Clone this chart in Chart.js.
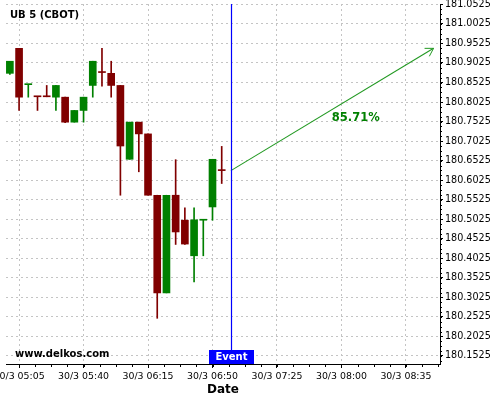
<!doctype html>
<html lang="en">
  <head>
    <meta charset="UTF-8" />
    <title>UB 5 (CBOT)</title>
    <script src="https://cdn.jsdelivr.net/npm/chart.js"></script>
    <style>
      body {
        margin: 0;
        background: #fff;
      }
      canvas {
        display: block;
      }
    </style>
  </head>
  <body>
    <canvas id="candleChart" width="500" height="400"></canvas>

    <script>
      // 5-minute candles, 30/3
      const times = ["05:00", "05:05", "05:10", "05:15", "05:20", "05:25", "05:30", "05:35",
        "05:40", "05:45", "05:50", "05:55", "06:00", "06:05", "06:10", "06:15",
        "06:20", "06:25", "06:30", "06:35", "06:40", "06:45", "06:50", "06:55"];
      const opens = [180.876, 180.940, 180.847, 180.817, 180.817, 180.815, 180.815, 180.751,
        180.781, 180.845, 180.879, 180.876, 180.845, 180.656, 180.751, 180.721,
        180.564, 180.314, 180.564, 180.500, 180.409, 180.500, 180.534, 180.628];
      const highs = [180.907, 180.940, 180.848, 180.817, 180.845, 180.845, 180.815, 180.781,
        180.815, 180.907, 180.940, 180.907, 180.845, 180.751, 180.751, 180.721,
        180.564, 180.564, 180.655, 180.532, 180.532, 180.501, 180.656, 180.689];
      const lows = [180.873, 180.781, 180.815, 180.781, 180.816, 180.781, 180.750, 180.751,
        180.751, 180.815, 180.843, 180.815, 180.564, 180.656, 180.624, 180.564,
        180.249, 180.314, 180.438, 180.438, 180.342, 180.409, 180.500, 180.594];
      const closes = [180.907, 180.815, 180.848, 180.816, 180.816, 180.845, 180.751, 180.781,
        180.815, 180.907, 180.878, 180.845, 180.690, 180.751, 180.721, 180.564,
        180.314, 180.564, 180.470, 180.439, 180.501, 180.501, 180.656, 180.627];

      const eventTime = "07:00";
      const forecastTimes = ["07:00", "08:50"];
      const forecastValues = [180.627, 180.94];
      const forecastLabel = "85.71%";

      const xTickTimes = ["05:05", "05:40", "06:15", "06:50", "07:25", "08:00", "08:35"];
      const xTickLabels = ["30/3 05:05", "30/3 05:40", "30/3 06:15", "30/3 06:50",
        "30/3 07:25", "30/3 08:00", "30/3 08:35"];
      const yTicks = [180.1525, 180.2025, 180.2525, 180.3025, 180.3525, 180.4025, 180.4525,
        180.5025, 180.5525, 180.6025, 180.6525, 180.7025, 180.7525, 180.8025,
        180.8525, 180.9025, 180.9525, 181.0025, 181.0525];

      const UP = "#008000";
      const DOWN = "#800000";
      const ARROW = "#229922";
      const FONT = "'DejaVu Sans', sans-serif";

      function toMin(t) {
        const [h, m] = t.split(":").map(Number);
        return h * 60 + m;
      }

      const candleColor = (i) => (closes[i] >= opens[i] ? UP : DOWN);

      const wickData = times.map((t, i) => ({ x: toMin(t), y: [lows[i], highs[i]] }));
      const bodyData = times.map((t, i) => ({ x: toMin(t), y: [opens[i], closes[i]] }));
      const forecastData = forecastTimes.map((t, i) => ({ x: toMin(t), y: forecastValues[i] }));

      Chart.defaults.font.family = FONT;
      Chart.defaults.font.size = 9.4;
      Chart.defaults.color = "#000";

      // event line, arrow head, labels and minor ticks
      const overlay = {
        id: "overlay",
        afterDraw(chart) {
          const { ctx, chartArea: a, scales } = chart;
          const x = scales.x, y = scales.y;
          ctx.save();
          ctx.setLineDash([]);
          ctx.lineWidth = 1;

          // minor ticks
          ctx.strokeStyle = "#000";
          ctx.beginPath();
          const xStep = 35 / 4;
          for (let v = toMin(xTickTimes[0]) - 4 * xStep; v <= x.max; v += xStep) {
            if (v < x.min) continue;
            const px = Math.round(x.getPixelForValue(v)) + 0.5;
            ctx.moveTo(px, a.bottom);
            ctx.lineTo(px, a.bottom + 3);
          }
          for (let v = yTicks[0] - 0.0125; v <= y.max; v += 0.0125) {
            if (v < y.min) continue;
            const py = Math.round(y.getPixelForValue(v)) + 0.5;
            ctx.moveTo(a.right, py);
            ctx.lineTo(a.right + 2, py);
          }
          ctx.stroke();

          // event line
          const ex = Math.round(x.getPixelForValue(toMin(eventTime))) + 0.5;
          ctx.strokeStyle = "#0000ff";
          ctx.lineWidth = 1.2;
          ctx.beginPath();
          ctx.moveTo(ex, a.top);
          ctx.lineTo(ex, a.bottom);
          ctx.stroke();
          ctx.fillStyle = "#0000ff";
          ctx.fillRect(ex - 22.5, a.bottom - 14, 45, 14);
          ctx.fillStyle = "#fff";
          ctx.font = "bold 10px " + FONT;
          ctx.textAlign = "center";
          ctx.textBaseline = "middle";
          ctx.fillText("Event", ex, a.bottom - 6.5);

          // arrow head
          const pts = chart.getDatasetMeta(2).data;
          const p0 = pts[0], p1 = pts[1];
          const ang = Math.atan2(p1.y - p0.y, p1.x - p0.x);
          ctx.strokeStyle = ARROW;
          ctx.lineWidth = 1;
          ctx.beginPath();
          for (const s of [-1, 1]) {
            const b = ang + Math.PI + s * (31 * Math.PI / 180);
            ctx.moveTo(p1.x, p1.y);
            ctx.lineTo(p1.x + 9 * Math.cos(b), p1.y + 9 * Math.sin(b));
          }
          ctx.stroke();

          ctx.fillStyle = "#008000";
          ctx.font = "bold 11.5px " + FONT;
          ctx.textAlign = "center";
          ctx.textBaseline = "alphabetic";
          ctx.fillText(forecastLabel, (p0.x + p1.x) / 2 + 23.5, (p0.y + p1.y) / 2 + 12);

          // title and watermark
          ctx.fillStyle = "#000";
          ctx.font = "bold 10px " + FONT;
          ctx.textAlign = "left";
          ctx.textBaseline = "middle";
          ctx.fillText("UB 5 (CBOT)", 10, 15.5);
          ctx.fillText("www.delkos.com", 15, 354);
          ctx.restore();
        },
      };

      new Chart(document.getElementById("candleChart"), {
        type: "bar",
        data: {
          datasets: [
            {
              label: "wick",
              data: wickData,
              backgroundColor: (c) => candleColor(c.dataIndex),
              barThickness: 1,
              grouped: false,
            },
            {
              label: "body",
              data: bodyData,
              backgroundColor: (c) => candleColor(c.dataIndex),
              barThickness: 7,
              minBarLength: 1,
              grouped: false,
            },
            {
              type: "line",
              label: "forecast",
              data: forecastData,
              borderColor: ARROW,
              borderWidth: 1.1,
              pointRadius: 0,
              fill: false,
            },
          ],
        },
        options: {
          responsive: false,
          animation: false,
          layout: { padding: { top: 4, left: 6, right: 0, bottom: 0 } },
          plugins: {
            legend: { display: false },
            tooltip: { enabled: false },
          },
          scales: {
            x: {
              type: "linear",
              offset: false,
              min: 297.9,
              max: 533.5,
              afterBuildTicks: (s) => {
                s.ticks = xTickTimes.map((t) => ({ value: toMin(t) }));
              },
              afterFit: (s) => {
                s.height = 36;
                s.paddingLeft = 0;
                s.paddingRight = 0;
              },
              ticks: {
                autoSkip: false,
                maxRotation: 0,
                padding: 3,
                callback: (v, i) => xTickLabels[i],
              },
              grid: {
                offset: false,
                color: "#c4c4c4",
                tickColor: "#000",
                tickLength: 4,
              },
              border: { display: true, color: "#000", dash: [2, 3] },
              title: {
                display: true,
                text: "Date",
                font: { size: 12, weight: "bold" },
                padding: { top: 0, bottom: 3 },
              },
            },
            y: {
              position: "right",
              min: 180.132,
              max: 181.0535,
              afterBuildTicks: (s) => {
                s.ticks = yTicks.map((v) => ({ value: v }));
              },
              afterFit: (s) => {
                s.width = 60;
                s.paddingTop = 0;
                s.paddingBottom = 0;
              },
              ticks: {
                padding: 2,
                font: { size: 9.6 },
                callback: (v) => Number(v).toFixed(4),
              },
              grid: {
                color: "#c4c4c4",
                tickColor: "#000",
                tickLength: 3,
              },
              border: { display: true, color: "#000", dash: [2, 3] },
            },
          },
        },
        plugins: [overlay],
      });
    </script>
  </body>
</html>
